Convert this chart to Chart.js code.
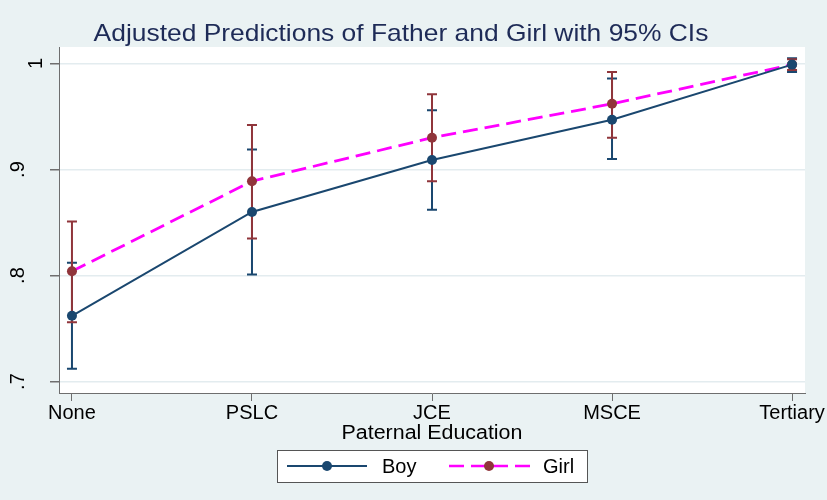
<!DOCTYPE html>
<html>
<head>
<meta charset="utf-8">
<script src="https://cdn.jsdelivr.net/npm/chart.js@4/dist/chart.umd.min.js"></script>
<style>
html,body{margin:0;padding:0;background:#eaf2f3;}
#wrap{width:827px;height:500px;position:relative;}
</style>
</head>
<body>
<div id="wrap"><canvas id="c" width="827" height="500"></canvas></div>
<script>
// ---- data ----
const categories = ["None", "PSLC", "JCE", "MSCE", "Tertiary"];
const boyMean  = [0.762, 0.860, 0.909, 0.947, 0.999];
const boyLow   = [0.712, 0.801, 0.862, 0.910, 0.992];
const boyHigh  = [0.812, 0.919, 0.956, 0.986, 1.005];
const girlMean = [0.804, 0.889, 0.930, 0.962, 0.999];
const girlLow  = [0.756, 0.835, 0.889, 0.930, 0.994];
const girlHigh = [0.851, 0.942, 0.971, 0.992, 1.004];
const yTicks = [0.7, 0.8, 0.9, 1.0];
const yTickLabels = [".7", ".8", ".9", "1"];
const titleText = "Adjusted Predictions of Father and Girl with 95% CIs";
const xTitleText = "Paternal Education";
const seriesNames = ["Boy", "Girl"];

// ---- styles ----
const BG = "#eaf2f3";
const NAVY = "#1a476f";
const MAROON = "#90353b";
const MAGENTA = "#ff00ff";
const AXIS = "#6e6e6e";
const FONT = "'Liberation Sans', Arial, sans-serif";

const toPts = arr => arr.map((v, i) => ({x: i, y: v}));

function stretchedText(ctx, text, x, y, sx) {
  ctx.save();
  ctx.translate(x, y);
  ctx.scale(sx, 1);
  ctx.fillText(text, 0, 0);
  ctx.restore();
}

const errorBars = {
  id: 'errorBars',
  beforeDatasetsDraw(chart) {
    const ctx = chart.ctx, xs = chart.scales.x, ys = chart.scales.y;
    const sets = [[boyLow, boyHigh, NAVY], [girlLow, girlHigh, MAROON]];
    ctx.save();
    sets.forEach(([lo, hi, col]) => {
      ctx.strokeStyle = col; ctx.lineWidth = 2;
      lo.forEach((l, i) => {
        const x = xs.getPixelForValue(i);
        const y1 = ys.getPixelForValue(l), y2 = ys.getPixelForValue(hi[i]);
        ctx.beginPath();
        ctx.moveTo(x, y1); ctx.lineTo(x, y2);
        ctx.moveTo(x - 5, y1); ctx.lineTo(x + 5, y1);
        ctx.moveTo(x - 5, y2); ctx.lineTo(x + 5, y2);
        ctx.stroke();
      });
    });
    ctx.restore();
  }
};

const decorations = {
  id: 'decorations',
  beforeDraw(chart) {
    const ctx = chart.ctx, a = chart.chartArea;
    ctx.save();
    ctx.fillStyle = BG; ctx.fillRect(0, 0, chart.width, chart.height);
    ctx.fillStyle = "#ffffff"; ctx.fillRect(a.left, a.top, a.right - a.left, a.bottom - a.top);
    ctx.restore();
  },
  afterDraw(chart) {
    const ctx = chart.ctx, a = chart.chartArea, ys = chart.scales.y;
    ctx.save();
    // title
    ctx.fillStyle = "#1e2b57";
    ctx.font = "24px " + FONT;
    ctx.textAlign = "center"; ctx.textBaseline = "alphabetic";
    stretchedText(ctx, titleText, 401, 41, 1.1);
    // y tick labels (rotated)
    ctx.fillStyle = "#000";
    ctx.font = "20px " + FONT;
    yTicks.forEach((v, i) => {
      const y = ys.getPixelForValue(v);
      const bx = yTickLabels[i].startsWith(".") ? 24 : 42;
      ctx.save();
      ctx.translate(bx, y);
      ctx.rotate(-Math.PI / 2);
      ctx.textAlign = "center"; ctx.textBaseline = "alphabetic";
      ctx.fillText(yTickLabels[i], 0, 0);
      ctx.restore();
    });
    // x axis title
    ctx.font = "20px " + FONT;
    ctx.textAlign = "center"; ctx.textBaseline = "middle";
    stretchedText(ctx, xTitleText, (a.left + a.right) / 2, 433, 1.07);
    // legend
    const lx = 277, ly = 450, lw = 310, lh = 32, cy = ly + lh / 2;
    ctx.fillStyle = "#fff"; ctx.fillRect(lx, ly, lw, lh);
    ctx.strokeStyle = "#555"; ctx.lineWidth = 1;
    ctx.strokeRect(lx + 0.5, ly + 0.5, lw, lh);
    // boy
    ctx.strokeStyle = NAVY; ctx.lineWidth = 2;
    ctx.beginPath(); ctx.moveTo(287, cy); ctx.lineTo(367, cy); ctx.stroke();
    ctx.fillStyle = NAVY; ctx.beginPath(); ctx.arc(327, cy, 5, 0, Math.PI * 2); ctx.fill();
    // girl
    ctx.strokeStyle = MAGENTA; ctx.lineWidth = 2.5; ctx.setLineDash([15, 7]);
    ctx.beginPath(); ctx.moveTo(449, cy); ctx.lineTo(530, cy); ctx.stroke();
    ctx.setLineDash([]);
    ctx.fillStyle = MAROON; ctx.beginPath(); ctx.arc(489, cy, 5, 0, Math.PI * 2); ctx.fill();
    ctx.fillStyle = "#000"; ctx.font = "20px " + FONT;
    ctx.textAlign = "left"; ctx.textBaseline = "middle";
    ctx.fillText(seriesNames[0], 382, cy + 1);
    ctx.fillText(seriesNames[1], 543, cy + 1);
    ctx.restore();
  }
};

new Chart(document.getElementById('c'), {
  type: 'line',
  data: {
    datasets: [
      {
        label: seriesNames[0], data: toPts(boyMean),
        borderColor: NAVY, backgroundColor: NAVY, borderWidth: 2,
        pointRadius: 5, pointBackgroundColor: NAVY, pointBorderWidth: 0,
        tension: 0
      },
      {
        label: seriesNames[1], data: toPts(girlMean),
        borderColor: MAGENTA, backgroundColor: MAROON, borderWidth: 2.8,
        borderDash: [15, 7],
        pointRadius: 5, pointBackgroundColor: MAROON, pointBorderWidth: 0,
        tension: 0
      }
    ]
  },
  options: {
    responsive: false, animation: false, devicePixelRatio: 1,
    layout: {padding: {left: 0, right: 22, top: 47, bottom: 0}},
    plugins: {legend: {display: false}, title: {display: false}, tooltip: {enabled: false}},
    scales: {
      x: {
        type: 'linear', min: -0.072, max: 4.072,
        afterBuildTicks: s => { s.ticks = categories.map((c, i) => ({value: i})); },
        afterFit: s => { s.height = 107; },
        ticks: {
          autoSkip: false, maxRotation: 0, minRotation: 0, padding: 0,
          color: "#000", font: {family: FONT, size: 20},
          callback: v => categories[v]
        },
        grid: {drawOnChartArea: false, drawTicks: true, tickLength: 8, tickColor: AXIS, lineWidth: 1},
        border: {display: true, color: AXIS, width: 1}
      },
      y: {
        type: 'linear', min: 0.6892, max: 1.0156,
        afterBuildTicks: s => { s.ticks = yTicks.map(v => ({value: v})); },
        afterFit: s => { s.width = 59; },
        ticks: {display: false},
        grid: {color: "#e3ecef", lineWidth: 1.5, drawTicks: true, tickLength: 9, tickColor: AXIS},
        border: {display: true, color: AXIS, width: 1}
      }
    }
  },
  plugins: [decorations, errorBars]
});
</script>
</body>
</html>
